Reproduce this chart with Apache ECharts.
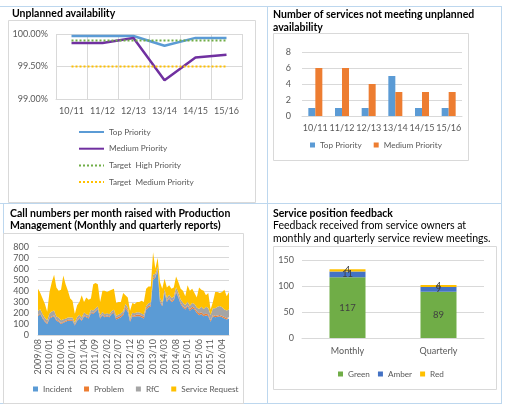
<!DOCTYPE html>
<html>
<head>
<meta charset="utf-8">
<script src="https://cdn.jsdelivr.net/npm/echarts@6/dist/echarts.min.js"></script>
<style>
html,body{margin:0;padding:0;background:#fff;}
#c{width:510px;height:406px;}
</style>
</head>
<body>
<div id="c"></div>
<script>
// ---- Chart 1: Unplanned availability ----
const years = ['10/11','11/12','12/13','13/14','14/15','15/16'];
const availTop = [99.97, 99.97, 99.97, 99.82, 99.94, 99.94];
const availMedium = [99.86, 99.86, 99.94, 99.29, 99.64, 99.68];
const targetHigh = [99.9, 99.9, 99.9, 99.9, 99.9, 99.9];
const targetMedium = [99.5, 99.5, 99.5, 99.5, 99.5, 99.5];

// ---- Chart 2: services not meeting availability ----
const failTop = [1, 1, 1, 5, 1, 1];
const failMedium = [6, 6, 4, 3, 3, 3];

// ---- Chart 3: call numbers per month ----
const months = ['2009/08','2009/09','2009/10','2009/11','2009/12',
 '2010/01','2010/02','2010/03','2010/04','2010/05','2010/06','2010/07','2010/08','2010/09','2010/10','2010/11','2010/12',
 '2011/01','2011/02','2011/03','2011/04','2011/05','2011/06','2011/07','2011/08','2011/09','2011/10','2011/11','2011/12',
 '2012/01','2012/02','2012/03','2012/04','2012/05','2012/06','2012/07','2012/08','2012/09','2012/10','2012/11','2012/12',
 '2013/01','2013/02','2013/03','2013/04','2013/05','2013/06','2013/07','2013/08','2013/09','2013/10','2013/11','2013/12',
 '2014/01','2014/02','2014/03','2014/04','2014/05','2014/06','2014/07','2014/08','2014/09','2014/10','2014/11','2014/12',
 '2015/01','2015/02','2015/03','2015/04','2015/05','2015/06','2015/07','2015/08','2015/09','2015/10','2015/11','2015/12',
 '2016/01','2016/02','2016/03','2016/04','2016/05','2016/06','2016/07'];
const incident = [170,190,150,120,100,150,160,170,130,120,100,110,120,130,130,130,85,130,150,130,170,160,150,200,190,210,230,150,180,160,170,160,190,200,140,150,160,180,240,210,120,170,165,170,170,160,150,230,250,260,500,520,580,300,260,380,300,330,300,310,390,340,280,250,230,260,220,240,230,200,180,190,170,180,170,120,170,160,165,170,160,150,140,150];
const problem = [8,8,8,8,8,8,8,8,8,8,8,8,8,8,8,8,8,8,8,8,8,8,8,8,8,8,8,8,8,8,8,8,8,8,15,15,15,15,15,15,12,12,12,15,15,15,15,12,12,12,15,10,10,10,10,10,10,10,10,12,12,12,12,12,12,12,15,15,15,15,15,15,15,15,15,12,12,12,12,12,12,12,12,12];
const rfc = [40,35,30,25,25,40,45,45,30,30,25,25,20,20,20,20,20,25,25,20,25,20,20,20,25,25,20,20,20,20,20,20,20,20,20,20,20,20,25,25,20,20,20,20,20,20,20,20,25,25,30,25,25,25,25,25,25,25,25,25,30,30,30,30,30,30,30,35,35,35,40,50,50,60,60,50,60,70,80,80,80,70,70,70];
const serviceRequest = [202,147,142,127,77,192,267,322,262,242,277,397,312,242,172,152,77,107,117,202,97,152,142,102,237,227,202,122,192,212,192,212,192,192,115,115,105,165,80,90,68,88,83,95,95,115,115,158,153,143,205,45,85,145,125,95,95,85,85,83,98,98,98,108,78,148,135,130,100,90,195,155,165,105,135,48,58,148,133,118,138,178,128,158];

// ---- Chart 4: service position feedback ----
const reviewTypes = ['Monthly','Quarterly'];
const fbGreen = [117, 89];
const fbAmber = [11, 9];
const fbRed = [4, 4];

const FONT = 'Lato';
const GRID = '#d9d9d9';
const TXT = '#595959';
const BLUE_BORDER = '#bdd7ee';
const AX = 9;     // axis label size
const LG = 8.2;   // legend text size
const TT = 10.5;  // title size

const chart = echarts.init(document.getElementById('c'), null, {renderer:'canvas'});

function valAxis(gridIndex, min, max, interval, fmt, margin){
  return {type:'value', gridIndex, min, max, interval,
    axisLine:{show:false}, axisTick:{show:false},
    splitLine:{lineStyle:{color:GRID, width:1}},
    axisLabel:{color:TXT, fontFamily:FONT, fontSize:AX, margin, formatter:fmt}};
}

const option = {
  animation:false,
  backgroundColor:'#fff',
  textStyle:{fontFamily:FONT},
  graphic:[
    // table borders
    {type:'line', shape:{x1:0,y1:6.5,x2:501,y2:6.5}, style:{stroke:BLUE_BORDER,lineWidth:1}, silent:true},
    {type:'line', shape:{x1:0,y1:203.5,x2:501,y2:203.5}, style:{stroke:BLUE_BORDER,lineWidth:1}, silent:true},
    {type:'line', shape:{x1:0,y1:403.5,x2:501,y2:403.5}, style:{stroke:BLUE_BORDER,lineWidth:1}, silent:true},
    {type:'line', shape:{x1:267.5,y1:6,x2:267.5,y2:404}, style:{stroke:BLUE_BORDER,lineWidth:1}, silent:true},
    {type:'line', shape:{x1:501.5,y1:6,x2:501.5,y2:404}, style:{stroke:BLUE_BORDER,lineWidth:1}, silent:true},
    {type:'line', shape:{x1:3.5,y1:203,x2:3.5,y2:404}, style:{stroke:BLUE_BORDER,lineWidth:1}, silent:true},
    // chart frames
    {type:'rect', shape:{x:8.5,y:20.5,width:247,height:182}, style:{fill:null,stroke:GRID,lineWidth:1}, silent:true},
    {type:'rect', shape:{x:273.5,y:33.5,width:195,height:127}, style:{fill:null,stroke:GRID,lineWidth:1}, silent:true},
    {type:'rect', shape:{x:3.5,y:233.5,width:240,height:170}, style:{fill:null,stroke:GRID,lineWidth:1}, silent:true},
    {type:'rect', shape:{x:273.5,y:246.5,width:223,height:143}, style:{fill:null,stroke:GRID,lineWidth:1}, silent:true}
  ],
  title:[
    {text:'Unplanned availability', left:12, top:8, padding:0,
      textStyle:{fontFamily:FONT,fontSize:TT,fontWeight:'bold',color:'#000'}},
    {text:'Number of services not meeting unplanned\navailability', left:273, top:8, padding:0,
      textStyle:{fontFamily:FONT,fontSize:TT,fontWeight:'bold',color:'#000',lineHeight:13}},
    {text:'Call numbers per month raised with Production\nManagement (Monthly and quarterly reports)', left:10, top:207, padding:0,
      textStyle:{fontFamily:FONT,fontSize:TT,fontWeight:'bold',color:'#000',lineHeight:12.7}},
    {text:'Service position feedback', left:273, top:207, padding:0, itemGap:0,
      textStyle:{fontFamily:FONT,fontSize:TT,fontWeight:'bold',color:'#000',lineHeight:12.7},
      subtext:'Feedback received from service owners at\nmonthly and quarterly service review meetings.',
      subtextStyle:{fontFamily:FONT,fontSize:TT,color:'#000',lineHeight:12.7}}
  ],
  legend:[
    {data:['Top Priority','Medium Priority','Target  High Priority','Target  Medium Priority'],
      orient:'vertical', left:78, top:128, itemWidth:25, itemHeight:10, itemGap:8.7, padding:0,
      itemStyle:{color:'transparent', borderWidth:0, opacity:0},
      textStyle:{color:TXT,fontFamily:FONT,fontSize:LG}},
    {data:['Top Priority#2','Medium Priority#2'], left:310, top:141, itemWidth:5, itemHeight:5, itemGap:12, padding:0, icon:'rect',
      formatter:n=>n.replace('#2',''), textStyle:{color:TXT,fontFamily:FONT,fontSize:LG}},
    {data:['Incident','Problem','RfC','Service Request'], left:33, top:385, itemWidth:5, itemHeight:5, itemGap:12, padding:0, icon:'rect',
      textStyle:{color:TXT,fontFamily:FONT,fontSize:LG}},
    {data:['Green','Amber','Red'], left:338, top:370, itemWidth:5, itemHeight:5, itemGap:8, padding:0, icon:'rect',
      textStyle:{color:TXT,fontFamily:FONT,fontSize:LG}}
  ],
  grid:[
    {left:56, right:268, top:34, bottom:307},
    {left:302, right:48, top:52, bottom:290},
    {left:38, right:281, top:246.7, bottom:71},
    {left:302, right:26, top:260, bottom:68}
  ],
  xAxis:[
    {type:'category', gridIndex:0, data:years, boundaryGap:true,
      axisLine:{show:true,lineStyle:{color:GRID}}, axisTick:{show:false},
      splitLine:{show:true,interval:0,lineStyle:{color:GRID}},
      axisLabel:{color:TXT,fontFamily:FONT,fontSize:AX,margin:8,interval:0}},
    {type:'category', gridIndex:1, data:years, boundaryGap:true,
      axisLine:{show:true,lineStyle:{color:GRID}}, axisTick:{show:false},
      axisLabel:{color:TXT,fontFamily:FONT,fontSize:AX,margin:8,interval:0}},
    {type:'category', gridIndex:2, data:months, boundaryGap:false,
      axisLine:{show:true,lineStyle:{color:GRID}}, axisTick:{show:false},
      axisLabel:{color:TXT,fontFamily:FONT,fontSize:AX,margin:4,rotate:90,interval:4}},
    {type:'category', gridIndex:3, data:reviewTypes, boundaryGap:true,
      axisLine:{show:true,lineStyle:{color:GRID}}, axisTick:{show:false},
      axisLabel:{color:TXT,fontFamily:FONT,fontSize:AX,margin:9,interval:0}}
  ],
  yAxis:[
    valAxis(0, 99, 100, 0.5, v=>v.toFixed(2)+'%', 8),
    valAxis(1, 0, 8, 2, null, 11),
    valAxis(2, 0, 800, 100, null, 9),
    valAxis(3, 0, 150, 50, null, 8)
  ],
  series:[
    {name:'Top Priority', type:'line', xAxisIndex:0, yAxisIndex:0, data:availTop, symbol:'none',
      color:'#5b9bd5', lineStyle:{width:2.5,color:'#5b9bd5'}},
    {name:'Medium Priority', type:'line', xAxisIndex:0, yAxisIndex:0, data:availMedium, symbol:'none',
      color:'#7030a0', lineStyle:{width:2.5,color:'#7030a0'}},
    {name:'Target  High Priority', type:'line', xAxisIndex:0, yAxisIndex:0, data:targetHigh, symbol:'none',
      color:'#70ad47', lineStyle:{width:2,color:'#70ad47',type:[2,2]}},
    {name:'Target  Medium Priority', type:'line', xAxisIndex:0, yAxisIndex:0, data:targetMedium, symbol:'none',
      color:'#ffc000', lineStyle:{width:2,color:'#ffc000',type:[2,2]}},

    {name:'Top Priority#2', type:'bar', xAxisIndex:1, yAxisIndex:1, data:failTop, barWidth:7, barGap:'0%',
      itemStyle:{color:'#5b9bd5'}},
    {name:'Medium Priority#2', type:'bar', xAxisIndex:1, yAxisIndex:1, data:failMedium, barWidth:7, barGap:'0%',
      itemStyle:{color:'#ed7d31'}},

    {name:'Incident', type:'line', xAxisIndex:2, yAxisIndex:2, stack:'calls', data:incident, symbol:'none',
      lineStyle:{width:0}, areaStyle:{color:'#5b9bd5',opacity:1}, itemStyle:{color:'#5b9bd5'}},
    {name:'Problem', type:'line', xAxisIndex:2, yAxisIndex:2, stack:'calls', data:problem, symbol:'none',
      lineStyle:{width:0}, areaStyle:{color:'#ed7d31',opacity:1}, itemStyle:{color:'#ed7d31'}},
    {name:'RfC', type:'line', xAxisIndex:2, yAxisIndex:2, stack:'calls', data:rfc, symbol:'none',
      lineStyle:{width:0}, areaStyle:{color:'#a5a5a5',opacity:1}, itemStyle:{color:'#a5a5a5'}},
    {name:'Service Request', type:'line', xAxisIndex:2, yAxisIndex:2, stack:'calls', data:serviceRequest, symbol:'none',
      lineStyle:{width:0}, areaStyle:{color:'#ffc000',opacity:1}, itemStyle:{color:'#ffc000'}},

    {name:'Green', type:'bar', xAxisIndex:3, yAxisIndex:3, stack:'fb', data:fbGreen, barWidth:36,
      itemStyle:{color:'#70ad47'},
      label:{show:true,position:'inside',color:'#404040',fontFamily:FONT,fontSize:9.5}},
    {name:'Amber', type:'bar', xAxisIndex:3, yAxisIndex:3, stack:'fb', data:fbAmber, barWidth:36,
      itemStyle:{color:'#4472c4'},
      label:{show:true,position:'inside',color:'#404040',fontFamily:FONT,fontSize:9.5}},
    {name:'Red', type:'bar', xAxisIndex:3, yAxisIndex:3, stack:'fb', data:fbRed, barWidth:36,
      itemStyle:{color:'#ffc000'},
      label:{show:true,position:'inside',color:'#404040',fontFamily:FONT,fontSize:9.5}}
  ]
};
chart.setOption(option);
</script>
</body>
</html>
